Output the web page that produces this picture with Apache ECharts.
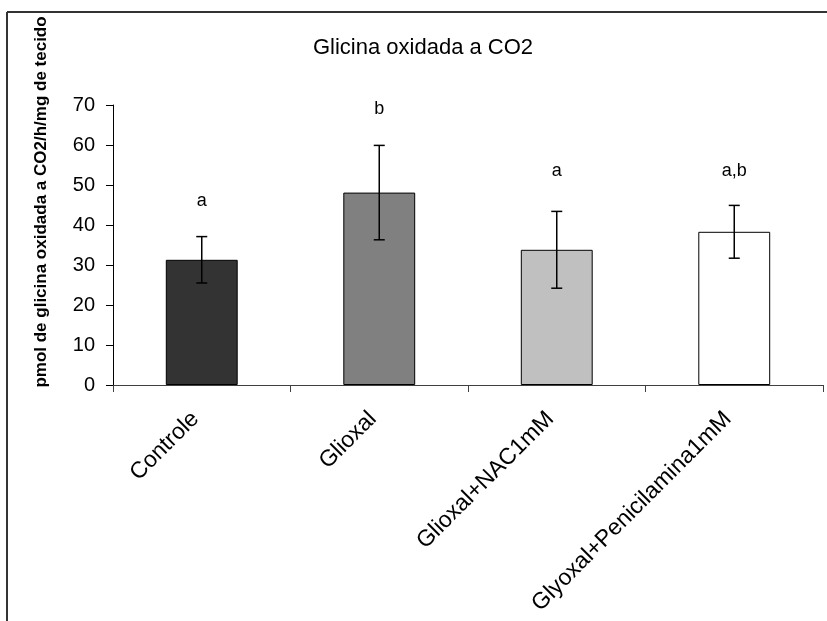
<!DOCTYPE html>
<html>
<head>
<meta charset="utf-8">
<script src="https://cdn.jsdelivr.net/npm/echarts@6/dist/echarts.min.js"></script>
<style>
html,body{margin:0;padding:0;background:#fff;}
#chart{width:827px;height:621px;}
</style>
</head>
<body>
<div id="chart"></div>
<script>
const categories = ['Controle', 'Glioxal', 'Glioxal+NAC1mM', 'Glyoxal+Penicilamina1mM'];
const means = [31.3, 48.1, 33.8, 38.3];
const errors = [5.8, 11.8, 9.6, 6.6];
const letters = ['a', 'b', 'a', 'a,b'];
const letterY = [46, 69, 53.5, 53.5];
const barColors = ['#333333', '#808080', '#c0c0c0', '#ffffff'];
const yTicks = [0, 10, 20, 30, 40, 50, 60, 70];

const FONT = '"Liberation Sans", Arial, sans-serif';
const chart = echarts.init(document.getElementById('chart'), null, {renderer: 'canvas'});

const errData = categories.map((c, i) => [i, means[i], errors[i], letterY[i], letters[i]]);

chart.setOption({
  backgroundColor: '#ffffff',
  animation: false,
  title: {
    text: 'Glicina oxidada a CO2',
    left: 418, top: 32, textAlign: 'center',
    textStyle: {fontFamily: FONT, fontSize: 22, fontWeight: 'normal', color: '#000'}
  },
  grid: {left: 113, right: 4, top: 105, bottom: 236, containLabel: false},
  xAxis: {
    type: 'category',
    data: categories,
    axisLine: {lineStyle: {color: '#404040', width: 1}},
    axisTick: {show: true, alignWithLabel: false, interval: 0, length: 7, lineStyle: {color: '#404040'}},
    axisLabel: {
      interval: 0, rotate: 45, margin: 24, padding: [0, 9, 0, 0],
      fontFamily: FONT, fontSize: 23, color: '#000'
    },
    splitLine: {show: false}
  },
  yAxis: {
    type: 'value',
    min: yTicks[0], max: yTicks[yTicks.length - 1], interval: 10,
    axisLine: {show: true, lineStyle: {color: '#000', width: 1}},
    axisTick: {show: true, length: 7, lineStyle: {color: '#000'}},
    axisLabel: {margin: 18, fontFamily: FONT, fontSize: 20, color: '#000'},
    splitLine: {show: false}
  },
  graphic: [
    {type: 'line', shape: {x1: 7, y1: 12, x2: 827, y2: 12}, style: {stroke: '#333', lineWidth: 2}},
    {type: 'line', shape: {x1: 7, y1: 12, x2: 7, y2: 621}, style: {stroke: '#333', lineWidth: 2}},
    {
      type: 'text', x: 41, y: 202, rotation: Math.PI / 2,
      style: {
        text: 'pmol de glicina oxidada a CO2/h/mg de tecido',
        font: 'bold 17px "Liberation Sans", Arial, sans-serif',
        fill: '#000', textAlign: 'center', textVerticalAlign: 'middle'
      }
    }
  ],
  series: [
    {
      type: 'bar',
      barWidth: '40.5%',
      data: means.map((v, i) => ({
        value: v,
        itemStyle: {color: barColors[i], borderColor: '#000', borderWidth: 1}
      })),
      z: 2
    },
    {
      type: 'custom',
      z: 5,
      data: errData,
      renderItem: function (params, api) {
        const x = api.value(0);
        const m = api.value(1);
        const e = api.value(2);
        const top = api.coord([x, m + e]);
        const bot = api.coord([x, m - e]);
        const lp = api.coord([x, api.value(3)]);
        const cap = 5.5;
        const ls = {stroke: '#000', lineWidth: 1.5};
        return {
          type: 'group',
          children: [
            {type: 'line', shape: {x1: top[0], y1: top[1], x2: bot[0], y2: bot[1]}, style: ls},
            {type: 'line', shape: {x1: top[0] - cap, y1: top[1], x2: top[0] + cap, y2: top[1]}, style: ls},
            {type: 'line', shape: {x1: bot[0] - cap, y1: bot[1], x2: bot[0] + cap, y2: bot[1]}, style: ls},
            {type: 'text', x: lp[0], y: lp[1], style: {
              text: letters[params.dataIndex],
              font: '18px "Liberation Sans", Arial, sans-serif',
              fill: '#000', textAlign: 'center', textVerticalAlign: 'middle'
            }}
          ]
        };
      }
    }
  ]
});
</script>
</body>
</html>
